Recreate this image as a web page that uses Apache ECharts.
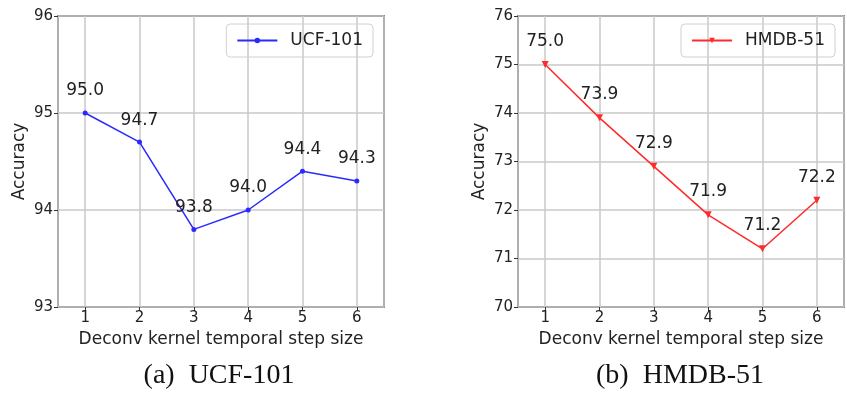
<!DOCTYPE html>
<html>
<head>
<meta charset="utf-8">
<script src="https://cdn.jsdelivr.net/npm/echarts@6/dist/echarts.min.js"></script>
<style>
  html, body { margin: 0; padding: 0; background: #fff; }
  #chart { width: 847px; height: 396px; }
</style>
</head>
<body>
<div id="chart"></div>
<script>
const steps = [1, 2, 3, 4, 5, 6]
const ucfAcc = [95.0, 94.7, 93.8, 94.0, 94.4, 94.3]
const hmdbAcc = [75.0, 73.9, 72.9, 71.9, 71.2, 72.2]
const ucfTicks = [93, 96]
const hmdbTicks = [70, 76]

const font = 'DejaVu Sans'
const pairs = (ys) => steps.map((x, i) => [x, ys[i]])

function xAxis(gridIndex) {
  return {
    type: 'value', gridIndex, min: 0.5, max: 6.5, minInterval: 1, maxInterval: 1,
    name: 'Deconv kernel temporal step size', nameLocation: 'middle', nameGap: 21,
    nameTextStyle: { fontFamily: font, fontSize: 17, color: '#222' },
    axisLine: { show: false },
    axisTick: { show: true, length: 4, lineStyle: { color: '#333' } },
    axisLabel: { fontFamily: font, fontSize: 15, color: '#222', margin: 4, showMinLabel: false, showMaxLabel: false },
    splitLine: { show: true, lineStyle: { color: '#c8c8c8', width: 1.5 } },
  }
}

function yAxis(gridIndex, range) {
  return {
    type: 'value', gridIndex, min: range[0], max: range[1], interval: 1,
    name: 'Accuracy', nameLocation: 'middle', nameGap: 30,
    nameTextStyle: { fontFamily: font, fontSize: 17, color: '#222' },
    axisLine: { show: false },
    axisTick: { show: true, length: 4, lineStyle: { color: '#333' } },
    axisLabel: { fontFamily: font, fontSize: 15, color: '#222', margin: 5 },
    splitLine: { show: true, lineStyle: { color: '#c8c8c8', width: 1.5 } },
  }
}

function series(name, ys, idx, color, symbol) {
  return {
    name, type: 'line', xAxisIndex: idx, yAxisIndex: idx,
    data: pairs(ys),
    symbol, symbolSize: symbol === 'circle' ? 5 : 7, symbolRotate: symbol === 'triangle' ? 180 : 0,
    itemStyle: { color },
    lineStyle: { color, width: 1.5 },
    label: {
      show: true, position: 'top', distance: 11,
      fontFamily: font, fontSize: 17, color: '#222',
      formatter: (p) => p.value[1].toFixed(1),
    },
  }
}

const legendBase = {
  orient: 'vertical', itemWidth: 40, itemHeight: 7, itemGap: 0,
  padding: [8, 10], borderColor: '#d0d0d0', borderWidth: 1, borderRadius: 4,
  textStyle: { fontFamily: font, fontSize: 17, color: '#222', padding: [0, 0, 0, 8] },
}

const option = {
  animation: false,
  title: [
    { text: '(a)  UCF-101', left: 214, top: 357, textAlign: 'center',
      textStyle: { fontFamily: 'Liberation Serif', fontSize: 28, fontWeight: 'normal', color: '#111' } },
    { text: '(b)  HMDB-51', left: 675, top: 357, textAlign: 'center',
      textStyle: { fontFamily: 'Liberation Serif', fontSize: 28, fontWeight: 'normal', color: '#111' } },
  ],
  legend: [
    Object.assign({ data: ['UCF-101'], right: 474, top: 24 }, legendBase),
    Object.assign({ data: ['HMDB-51'], right: 12, top: 24 }, legendBase),
  ],
  grid: [
    { left: 58, right: 463, top: 16, bottom: 89, show: true, borderColor: '#333', borderWidth: 1.5 },
    { left: 518, right: 3, top: 16, bottom: 89, show: true, borderColor: '#333', borderWidth: 1.5 },
  ],
  xAxis: [xAxis(0), xAxis(1)],
  yAxis: [yAxis(0, ucfTicks), yAxis(1, hmdbTicks)],
  series: [
    series('UCF-101', ucfAcc, 0, '#2a2aff', 'circle'),
    series('HMDB-51', hmdbAcc, 1, '#ff2a2a', 'triangle'),
  ],
}

const chart = echarts.init(document.getElementById('chart'), null, { renderer: 'canvas' })
chart.setOption(option)
</script>
</body>
</html>
